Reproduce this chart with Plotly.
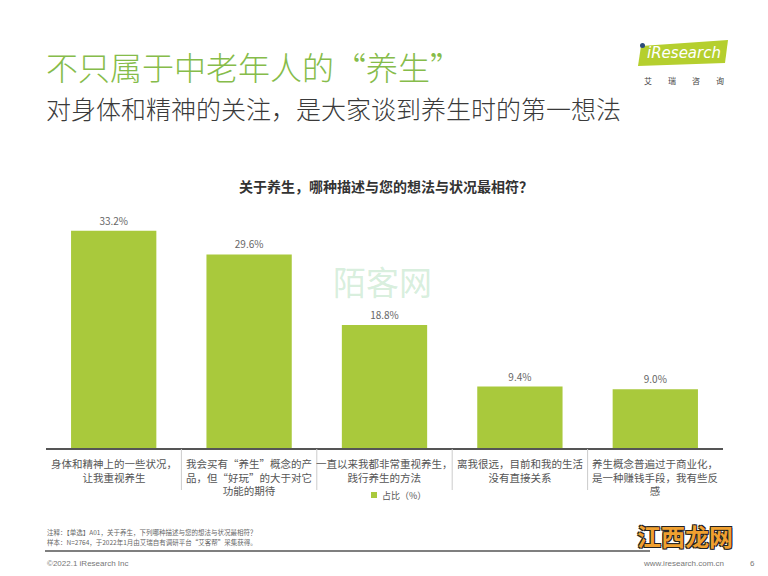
import plotly.graph_objects as go

categories = [
    "身体和精神上的一些状况，<br>让我重视养生",
    "我会买有“养生”概念的产<br>品，但“好玩”的大于对它<br>功能的期待",
    "一直以来我都非常重视养生，<br>践行养生的方法",
    "离我很远，目前和我的生活<br>没有直接关系",
    "养生概念普遍过于商业化，<br>是一种赚钱手段，我有些反<br>感",
]
values = [33.2, 29.6, 18.8, 9.4, 9.0]
series_name = "占比（%）"

title_text = "不只属于中老年人的“养生”"
subtitle_text = "对身体和精神的关注，是大家谈到养生时的第一想法"
chart_title = "关于养生，哪种描述与您的想法与状况最相符？"
note1 = "注释：【单选】A01，关于养生，下列哪种描述与您的想法与状况最相符？"
note2 = "样本：N=2764，于2022年1月由艾瑞自有调研平台“艾客帮”采集获得。"

FONT = "Noto Sans CJK SC"
W, H = 768, 576
PL, PR, PT, PB = 46, 723, 213, 448
BAR_COLOR = "#A9C93C"

def px(x):
    return (x - PL) / (PR - PL)

def py(y):
    return (PB - y) / (PB - PT)

xs = list(range(len(categories)))

fig = go.Figure()
fig.add_trace(go.Bar(
    x=xs, y=values, name=series_name, width=0.63,
    marker=dict(color=BAR_COLOR, line=dict(width=0)),
    texttemplate="%{y:.1f}%", textposition="outside",
    textfont=dict(family=FONT, size=10, color="#666666"),
    cliponaxis=False, showlegend=False,
))

ymax = (PB - PT) / 6.54
fig.update_xaxes(range=[-0.5, len(categories) - 0.5], showline=True, linecolor="#555555",
                 linewidth=2, showticklabels=False, ticks="", showgrid=False, zeroline=False,
                 fixedrange=True)
fig.update_yaxes(range=[0, ymax], visible=False, showgrid=False, zeroline=False)

ann = []
# category labels
for i, c in enumerate(categories):
    ann.append(dict(x=i, xref="x", y=py(454), yref="paper", text=c, showarrow=False,
                    xanchor="center", yanchor="top", align="center",
                    font=dict(family=FONT, size=10.5, color="#555555")))
# legend (manual)
ann.append(dict(x=px(380), y=py(495), xref="paper", yref="paper", text=series_name, showarrow=False,
                xanchor="left", yanchor="middle", font=dict(family=FONT, size=9, color="#555555")))
# title & subtitle
ann.append(dict(x=px(44), y=py(66), xref="paper", yref="paper", text=title_text, showarrow=False,
                xanchor="left", yanchor="middle",
                font=dict(family=FONT, size=32, color="#86BC4A", weight=300)))
ann.append(dict(x=px(44), y=py(108), xref="paper", yref="paper", text=subtitle_text, showarrow=False,
                xanchor="left", yanchor="middle",
                font=dict(family=FONT, size=25, color="#3A3A3A", weight=300)))
# chart title
ann.append(dict(x=px(386), y=py(186), xref="paper", yref="paper", text="<b>" + chart_title + "</b>",
                showarrow=False, xanchor="center", yanchor="middle",
                font=dict(family=FONT, size=14, color="#333333")))
# watermark
ann.append(dict(x=px(382), y=py(281), xref="paper", yref="paper", text="陌客网", showarrow=False,
                xanchor="center", yanchor="middle",
                font=dict(family=FONT, size=33, color="rgba(120,200,140,0.30)")))
# logo text
ann.append(dict(x=px(684), y=py(53), xref="paper", yref="paper", text="<i>iResearch</i>", showarrow=False,
                xanchor="center", yanchor="middle",
                font=dict(family="DejaVu Sans", size=15, color="#FFFFFF")))
ann.append(dict(x=px(684), y=py(80), xref="paper", yref="paper", text="艾　　瑞　　咨　　询", showarrow=False,
                xanchor="center", yanchor="middle",
                font=dict(family=FONT, size=8, color="#444444")))
# notes
ann.append(dict(x=px(45), y=py(532), xref="paper", yref="paper", text=note1, showarrow=False,
                xanchor="left", yanchor="middle", font=dict(family=FONT, size=6.5, color="#666666")))
ann.append(dict(x=px(45), y=py(542), xref="paper", yref="paper", text=note2, showarrow=False,
                xanchor="left", yanchor="middle", font=dict(family=FONT, size=6.5, color="#666666")))
ann.append(dict(x=px(45), y=py(563), xref="paper", yref="paper", text="©2022.1 iResearch Inc", showarrow=False,
                xanchor="left", yanchor="middle", font=dict(family="Liberation Sans", size=8, color="#777777")))
ann.append(dict(x=px(726), y=py(563), xref="paper", yref="paper", text="www.iresearch.com.cn", showarrow=False,
                xanchor="right", yanchor="middle", font=dict(family="Liberation Sans", size=8, color="#777777")))
ann.append(dict(x=px(752), y=py(563), xref="paper", yref="paper", text="6", showarrow=False,
                xanchor="center", yanchor="middle", font=dict(family="Liberation Sans", size=8, color="#777777")))
# bottom-right watermark
ann.append(dict(x=px(685), y=py(535), xref="paper", yref="paper", text="<b>江西龙网</b>", showarrow=False,
                xanchor="center", yanchor="middle",
                font=dict(family=FONT, size=24, color="#F0A030",
                          shadow="1px 1px 0 #222, -1px -1px 0 #222, 1px -1px 0 #222, -1px 1px 0 #222")))

shapes = []
for i in range(len(categories) - 1):
    shapes.append(dict(type="line", xref="x", yref="paper", x0=i + 0.5, x1=i + 0.5,
                       y0=py(449), y1=py(490), line=dict(color="#CCCCCC", width=1)))
# legend square
shapes.append(dict(type="rect", xref="paper", yref="paper", x0=px(371), x1=px(377),
                   y0=py(498), y1=py(492), fillcolor=BAR_COLOR, line=dict(width=0)))
# footer line
shapes.append(dict(type="line", xref="paper", yref="paper", x0=px(45), x1=px(650),
                   y0=py(551), y1=py(551), line=dict(color="#555555", width=1.5)))
# logo parallelogram
path = "M {} {} L {} {} L {} {} L {} {} Z".format(px(641), py(46), px(728), py(40),
                                                   px(725), py(63), px(638), py(66))
shapes.append(dict(type="path", xref="paper", yref="paper", path=path,
                   fillcolor="#B5CF2E", line=dict(width=0), layer="below"))
shapes.append(dict(type="circle", xref="paper", yref="paper", x0=px(640), x1=px(645),
                   y0=py(48), y1=py(43), fillcolor="#2A4A7A", line=dict(width=0)))

fig.update_layout(
    width=W, height=H, margin=dict(l=PL, r=W - PR, t=PT, b=H - PB, autoexpand=False),
    paper_bgcolor="white", plot_bgcolor="white",
    annotations=ann, shapes=shapes, showlegend=False,
    font=dict(family=FONT),
)

fig.write_html("out.html")
